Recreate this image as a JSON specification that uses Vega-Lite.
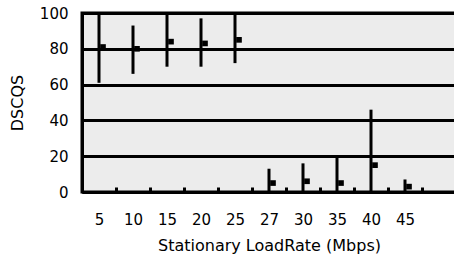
{
  "$schema": "https://vega.github.io/schema/vega-lite/v6.json",
  "width": 374,
  "height": 179,
  "autosize": {"type": "none"},
  "padding": {"left": 82, "top": 13, "right": 0, "bottom": 67},
  "background": "white",
  "config": {
    "view": {"stroke": "black", "strokeWidth": 3, "fill": "#ececec"},
    "font": "DejaVu Sans",
    "axis": {
      "domainWidth": 3,
      "domainColor": "black",
      "labelFont": "DejaVu Sans",
      "labelFontSize": 15,
      "labelColor": "black",
      "labelOverlap": false,
      "titleFont": "DejaVu Sans",
      "titleFontSize": 16,
      "titleFontWeight": "normal",
      "titleColor": "black"
    },
    "axisY": {
      "grid": true,
      "gridColor": "black",
      "gridWidth": 3,
      "gridOpacity": 1,
      "ticks": false,
      "labelPadding": 14,
      "titlePadding": 14,
      "values": [0, 20, 40, 60, 80, 100]
    },
    "axisX": {
      "labelAngle": 0,
      "tickBand": "extent",
      "tickSize": -5,
      "tickWidth": 3,
      "tickColor": "black",
      "labelPadding": 25,
      "titlePadding": 10
    }
  },
  "data": {
    "values": [
      {"rate": "5", "lo": 61, "hi": 100, "mean": 81},
      {"rate": "10", "lo": 66, "hi": 93, "mean": 80},
      {"rate": "15", "lo": 70, "hi": 99, "mean": 84},
      {"rate": "20", "lo": 70, "hi": 97, "mean": 83},
      {"rate": "25", "lo": 72, "hi": 100, "mean": 85},
      {"rate": "27", "lo": 0, "hi": 13, "mean": 5},
      {"rate": "30", "lo": 0, "hi": 16, "mean": 6},
      {"rate": "35", "lo": 0, "hi": 19, "mean": 5},
      {"rate": "40", "lo": 0, "hi": 46, "mean": 15},
      {"rate": "45", "lo": 0, "hi": 7, "mean": 3}
    ]
  },
  "encoding": {
    "x": {
      "field": "rate",
      "type": "ordinal",
      "sort": null,
      "scale": {"domain": ["5", "10", "15", "20", "25", "27", "30", "35", "40", "45", " "], "paddingInner": 0, "paddingOuter": 0},
      "axis": {"title": "Stationary LoadRate (Mbps)"}
    }
  },
  "layer": [
    {
      "mark": {"type": "rule", "strokeWidth": 3, "color": "black"},
      "encoding": {
        "y": {
          "field": "lo",
          "type": "quantitative",
          "scale": {"domain": [0, 100], "nice": false},
          "axis": {"title": "DSCQS"}
        },
        "y2": {"field": "hi"}
      }
    },
    {
      "mark": {"type": "square", "size": 32, "color": "black", "opacity": 1, "xOffset": 4},
      "encoding": {
        "y": {"field": "mean", "type": "quantitative", "axis": {"title": "DSCQS"}}
      }
    }
  ]
}
